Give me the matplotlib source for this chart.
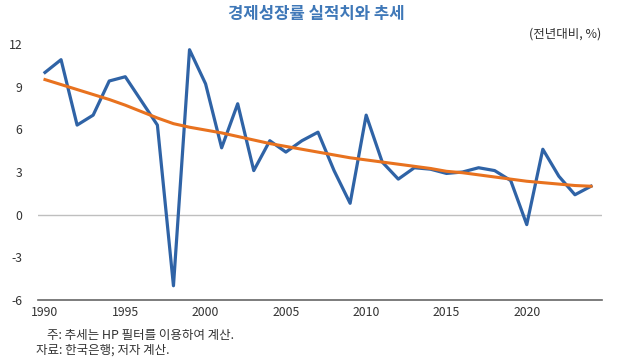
import matplotlib
matplotlib.use("Agg")
import matplotlib.pyplot as plt

plt.rcParams['font.family'] = ['Noto Sans CJK KR', 'DejaVu Sans']
plt.rcParams['axes.unicode_minus'] = False

# Korean GDP growth (%, y/y) and HP-filter trend
years = list(range(1990, 2025))
actual = [10.0, 10.9, 6.3, 7.0, 9.4, 9.7, 8.0, 6.3, -5.0, 11.6,
          9.2, 4.7, 7.8, 3.1, 5.2, 4.4, 5.2, 5.8, 3.1, 0.8,
          7.0, 3.7, 2.5, 3.3, 3.2, 2.9, 3.0, 3.3, 3.1, 2.4,
          -0.7, 4.6, 2.7, 1.4, 2.0]
trend = [9.5, 9.15, 8.8, 8.45, 8.1, 7.7, 7.25, 6.8, 6.4, 6.15,
         5.95, 5.75, 5.5, 5.25, 5.0, 4.8, 4.6, 4.4, 4.2, 4.0,
         3.85, 3.7, 3.55, 3.4, 3.25, 3.05, 2.95, 2.8, 2.65, 2.5,
         2.35, 2.25, 2.15, 2.05, 2.0]
yticks = [-6, -3, 0, 3, 6, 9, 12]
xticks = [1990, 1995, 2000, 2005, 2010, 2015, 2020]

fig = plt.figure(figsize=(6.4, 3.6), dpi=100)
ax = fig.add_axes([0.059, 0.1667, 0.882, 0.711])

ax.axhline(0, color='#bfbfbf', lw=1.0, zorder=1)
ax.plot(years, actual, color='#2f63a6', lw=2.3, zorder=2)
ax.plot(years, trend, color='#e8721f', lw=2.2, zorder=3)

ax.set_xlim(1989.55, 2024.7)
ax.set_ylim(-6, 12)
ax.set_yticks(yticks)
ax.set_xticks(xticks)
ax.tick_params(axis='both', length=0, labelsize=8.8, colors='#333333')
ax.tick_params(axis='y', pad=11)
ax.tick_params(axis='x', pad=4)

for s in ['top', 'right', 'left']:
    ax.spines[s].set_visible(False)
ax.spines['bottom'].set_color('#666666')
ax.spines['bottom'].set_linewidth(1.2)

fig.text(0.495, 0.962, '경제성장률 실적치와 추세', ha='center', va='center',
         fontsize=12, fontweight='bold', color='#3f78b8')
fig.text(0.94, 0.906, '(전년대비, %)', ha='right', va='center',
         fontsize=9, color='#333333')
fig.text(0.073, 0.067, '주: 추세는 HP 필터를 이용하여 계산.', ha='left', va='center',
         fontsize=9, color='#333333')
fig.text(0.056, 0.027, '자료: 한국은행; 저자 계산.', ha='left', va='center',
         fontsize=9, color='#333333')

fig.savefig('out.png', dpi=100)
